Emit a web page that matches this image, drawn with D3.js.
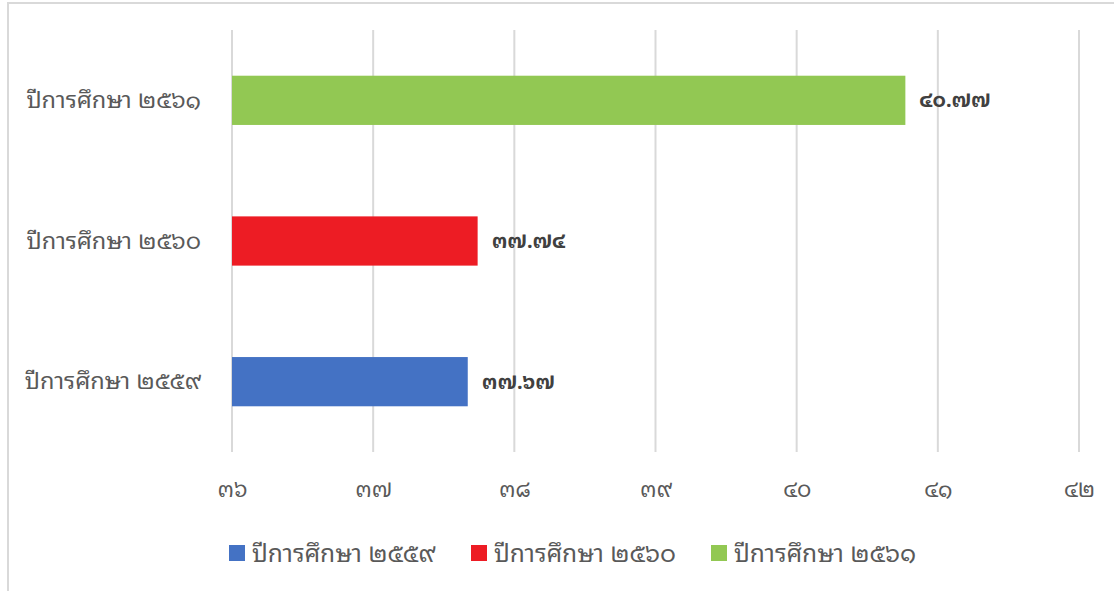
<!DOCTYPE html>
<html><head><meta charset="utf-8">
<script src="https://cdn.jsdelivr.net/npm/d3@7"></script>
<style>body{margin:0;background:#fff;} svg{display:block;}</style>
</head><body>
<svg id="c" width="1114" height="591"></svg>
<script>
const categories = ["ปีการศึกษา ๒๕๕๙", "ปีการศึกษา ๒๕๖๐", "ปีการศึกษา ๒๕๖๑"];
const values = [37.67, 37.74, 40.77];
const colors = ["#4472c4", "#ed1c24", "#92c853"];
const ticks = [36, 37, 38, 39, 40, 41, 42];

const thaiDigits = "๐๑๒๓๔๕๖๗๘๙";
const toThai = s => String(s).replace(/[0-9]/g, d => thaiDigits[+d]);
const FONT = "'Noto Sans Thai Looped','Noto Sans Thai','Leelawadee UI','Tahoma',sans-serif";

const svg = d3.select("#c");
// outer border
svg.append("rect").attr("x", 8).attr("y", 3).attr("width", 1120).attr("height", 600)
  .attr("fill", "none").attr("stroke", "#d9d9d9").attr("stroke-width", 2);

const x = d3.scaleLinear().domain([36, 42]).range([232, 1079]);
const y = d3.scaleBand().domain(categories.slice().reverse()).range([30, 452]).paddingInner(0.65).paddingOuter(0.325);

// gridlines
svg.append("g").selectAll("line").data(ticks).join("line")
  .attr("x1", d => x(d)).attr("x2", d => x(d)).attr("y1", 30).attr("y2", 452)
  .attr("stroke", "#d9d9d9").attr("stroke-width", 2);

// x axis labels
const xAxis = d3.axisBottom(x).tickValues(ticks).tickSize(0).tickPadding(0).tickFormat(d => toThai(d));
const gx = svg.append("g").attr("transform", "translate(0,481)").call(xAxis);
gx.select(".domain").remove();
gx.selectAll("text").attr("font-family", FONT).attr("font-size", 22).attr("fill", "#595959");

// y axis labels
const yAxis = d3.axisLeft(y).tickSize(0).tickPadding(0);
const gy = svg.append("g").attr("transform", "translate(201,0)").call(yAxis);
gy.select(".domain").remove();
gy.selectAll("text").attr("font-family", FONT).attr("font-size", 23.5).attr("fill", "#595959");

// bars
const data = categories.map((c, i) => ({c, v: values[i], col: colors[i]}));
svg.append("g").selectAll("rect").data(data).join("rect")
  .attr("x", x(36)).attr("y", d => y(d.c)).attr("width", d => x(d.v) - x(36))
  .attr("height", y.bandwidth()).attr("fill", d => d.col);

// value labels
svg.append("g").selectAll("text").data(data).join("text")
  .attr("x", d => x(d.v) + 14).attr("y", d => y(d.c) + y.bandwidth() / 2)
  .attr("dy", "0.35em").attr("font-family", FONT).attr("font-size", 20).attr("font-weight", "bold")
  .attr("fill", "#404040").text(d => toThai(d.v.toFixed(2)));

// legend
const legX = [229, 471, 711];
const lg = svg.append("g").selectAll("g").data(data).join("g")
  .attr("transform", (d, i) => `translate(${legX[i]},545)`);
lg.append("rect").attr("width", 16).attr("height", 16).attr("fill", d => d.col);
lg.append("text").attr("x", 23).attr("y", 8).attr("dy", "0.35em")
  .attr("font-family", FONT).attr("font-size", 24.5).attr("fill", "#595959").text(d => d.c);
</script>
</body></html>
